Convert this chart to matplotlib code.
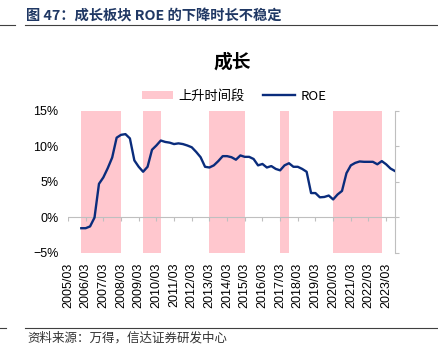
import matplotlib
matplotlib.use('Agg')
import matplotlib.pyplot as plt
import matplotlib.dates as mdates
from matplotlib.patches import Patch
from matplotlib.lines import Line2D
import pandas as pd

plt.rcParams['font.family'] = ['Liberation Sans', 'Noto Sans CJK SC', 'DejaVu Sans']

#%% data
dates = pd.date_range('2005-12-31', '2023-09-30', freq='QE')
roe = [-1.55, -1.55, -1.3, -0.05, 4.7, 5.6, 6.9, 8.4, 11.2, 11.6, 11.7, 11.1,
       8.0, 7.1, 6.4, 7.1, 9.5, 10.1, 10.8, 10.6, 10.5, 10.3, 10.4, 10.3,
       10.1, 9.85, 9.2, 8.45, 7.1, 7.0, 7.3, 7.9, 8.6, 8.6, 8.45, 8.1,
       8.7, 8.5, 8.5, 8.2, 7.3, 7.5, 7.0, 7.2, 6.8, 6.6, 7.3, 7.6,
       7.1, 7.1, 6.8, 6.4, 3.4, 3.4, 2.8, 2.85, 3.05, 2.5, 3.2, 3.7,
       6.2, 7.3, 7.65, 7.85, 7.8, 7.8, 7.8, 7.45, 7.9, 7.45, 6.85, 6.5]

rise_start = ['2005-12-31', '2009-06-30', '2013-03-31', '2017-03-31', '2020-03-31']
rise_end = ['2008-03-31', '2010-06-30', '2015-03-31', '2017-09-30', '2022-12-31']

tick_years = list(range(2005, 2024))
yticks = [-5, 0, 5, 10, 15]
ytick_labels = ['\u22125%', '0%', '5%', '10%', '15%']

pink = '#FFC7CE'
navy = '#0A2C7C'
grey = '#BFBFBF'

#%% figure
fig = plt.figure(figsize=(4.39, 3.56), dpi=100)
ax = fig.add_axes([68/439, 1-252.7/356, (395-68)/439, 142/356])

for s, e in zip(rise_start, rise_end):
    ax.axvspan(pd.Timestamp(s), pd.Timestamp(e), color=pink, lw=0, zorder=1)

ax.plot(dates, roe, color=navy, lw=1.7, zorder=3)

xt = [pd.Timestamp(f'{y}-03-31') for y in tick_years]
ax.axhline(0, color=grey, lw=0.8, zorder=2)
ax.vlines(xt, -0.55, 0, color=grey, lw=0.8, zorder=2)

ax.set_xlim(pd.Timestamp('2005-03-31'), pd.Timestamp('2023-09-30'))
ax.set_ylim(-5, 15)
ax.set_xticks(xt)
ax.xaxis.set_major_formatter(mdates.DateFormatter('%Y/%m'))
ax.tick_params(axis='x', length=0, rotation=90, labelsize=9, pad=7)
ax.set_yticks(yticks)
ax.set_yticklabels(ytick_labels)
ax.tick_params(axis='y', left=False, right=True, labelleft=True, labelright=False,
               direction='out', length=3, color=grey, labelsize=9, pad=4)

for sp in ['left', 'top', 'bottom']:
    ax.spines[sp].set_visible(False)
ax.spines['right'].set_color(grey)
ax.spines['right'].set_linewidth(0.8)

# legend
handles = [Patch(color=pink, lw=0), Line2D([0], [0], color=navy, lw=1.7)]
fig.legend(handles, ['上升时间段', 'ROE'], loc='center', bbox_to_anchor=(234/439, 1-96/356),
           ncol=2, frameon=False, handlelength=2.4, handleheight=0.6,
           columnspacing=1.4, handletextpad=0.4,
           prop={'family': ['Noto Sans CJK SC'], 'size': 9.5})

# chart title
fig.text(232/439, 1-62/356, '成长', ha='center', va='center', fontsize=13.5,
         fontweight='bold', family=['Noto Sans CJK SC'])

# header
fig.text(26/439, 1-16/356, '图 47：成长板块 ROE 的下降时长不稳定', ha='left', va='center',
         fontsize=10.3, fontweight='bold', color='#203864', family=['Noto Sans CJK SC', 'DejaVu Sans'])
fig.add_artist(Line2D([25/439, 1], [1-25/356, 1-25/356], color='#404040', lw=0.8))
fig.add_artist(Line2D([0, 15/439], [1-25/356, 1-25/356], color='#404040', lw=0.8))

# footer
fig.add_artist(Line2D([25/439, 1], [1-328/356, 1-328/356], color='#404040', lw=0.8))
fig.add_artist(Line2D([0, 6/439], [1-328/356, 1-328/356], color='#404040', lw=0.8))
fig.text(27/439, 1-338/356, '资料来源：万得，信达证券研发中心', ha='left', va='center',
         fontsize=9, style='italic', color='#333333', family=['Noto Sans CJK SC'])

fig.savefig('out.png', dpi=100)
